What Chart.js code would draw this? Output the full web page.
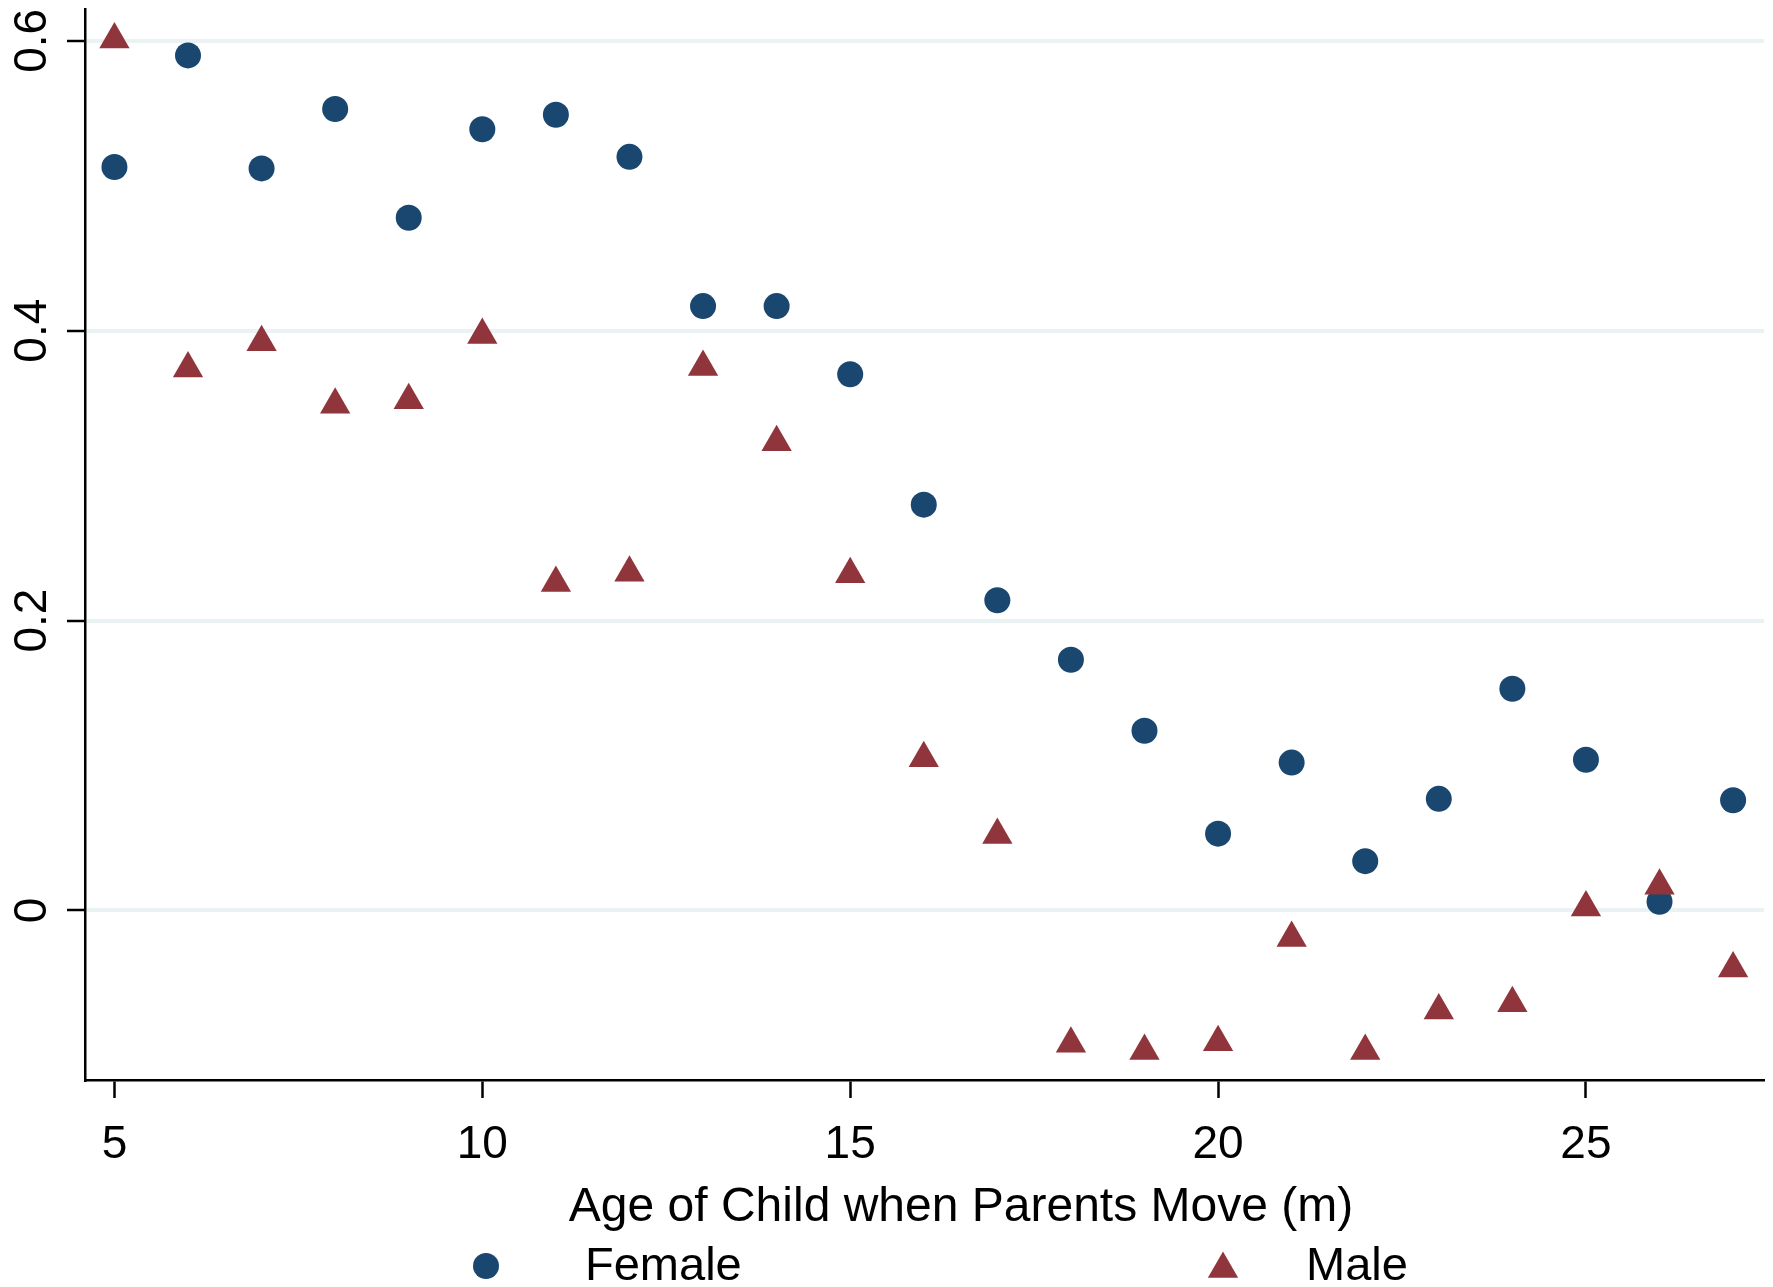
<!DOCTYPE html>
<html>
<head>
<meta charset="utf-8">
<script src="https://cdn.jsdelivr.net/npm/chart.js@4.4.1/dist/chart.umd.min.js"></script>
<style>
    html, body { margin: 0; padding: 0; background: #fff; }
    #wrap { width: 1773px; height: 1287px; }
</style>
</head>
<body>
<div id="wrap"><canvas id="moveChart" width="1773" height="1287"></canvas></div>
<script>
/* ===============================
   DATA
================================ */
const ages = [5, 6, 7, 8, 9, 10, 11, 12, 13, 14, 15, 16, 17, 18, 19, 20, 21, 22, 23, 24, 25, 26, 27];
const femaleValues = [0.513, 0.590, 0.512, 0.553, 0.478, 0.539, 0.549, 0.520, 0.417, 0.417, 0.370, 0.280,
                      0.214, 0.173, 0.124, 0.053, 0.102, 0.034, 0.077, 0.153, 0.104, 0.006, 0.076];
const maleValues = [0.601, 0.374, 0.392, 0.349, 0.352, 0.397, 0.226, 0.233, 0.375, 0.323, 0.232, 0.105,
                    0.052, -0.092, -0.097, -0.091, -0.019, -0.097, -0.069, -0.064, 0.002, 0.017, -0.040];
const xTicks = [5, 10, 15, 20, 25];
const yTicks = [0, 0.2, 0.4, 0.6];
const seriesNames = ["Female", "Male"];
const xTitle = "Age of Child when Parents Move (m)";

/* ===============================
   STYLE
================================ */
const NAVY = "#1a476f";
const MAROON = "#90353b";
const GRID = "#eaf2f3";
const FONT = '"Liberation Sans", Arial, Helvetica, sans-serif';

const toPoints = vals => ages.map((a, i) => ({ x: a, y: vals[i] }));

// no extra label padding around the plot, the layout padding sets the frame
function noPad(s) {
    s.paddingTop = 0;
    s.paddingBottom = 0;
    s.paddingLeft = 0;
    s.paddingRight = 0;
}

/* ===============================
   AXIS TITLE + LEGEND
================================ */
function drawMarker(ctx, style, x, y, r, color) {
    ctx.fillStyle = color;
    ctx.beginPath();
    if (style === "circle") {
        ctx.arc(x, y, r, 0, Math.PI * 2);
    } else {
        ctx.moveTo(x, y - r);
        ctx.lineTo(x + r * Math.sin(Math.PI * 2 / 3), y - r * Math.cos(Math.PI * 2 / 3));
        ctx.lineTo(x + r * Math.sin(Math.PI * 4 / 3), y - r * Math.cos(Math.PI * 4 / 3));
        ctx.closePath();
    }
    ctx.fill();
}

const bottomText = {
    id: "bottomText",
    afterDraw(chart) {
        const ctx = chart.ctx;
        ctx.save();
        ctx.fillStyle = "#000";
        ctx.textBaseline = "middle";

        // x axis title
        ctx.font = "48px " + FONT;
        ctx.textAlign = "center";
        ctx.fillText(xTitle, 961, 1208);

        // legend, two columns
        ctx.font = "47px " + FONT;
        ctx.textAlign = "left";
        drawMarker(ctx, "circle", 486, 1266, 13, NAVY);
        ctx.fillStyle = "#000";
        ctx.fillText(seriesNames[0], 585, 1267);
        drawMarker(ctx, "triangle", 1223, 1269, 17.5, MAROON);
        ctx.fillStyle = "#000";
        ctx.fillText(seriesNames[1], 1306, 1267);
        ctx.restore();
    }
};

/* ===============================
   CHART
================================ */
document.addEventListener("DOMContentLoaded", () => {
    const ctx = document.getElementById("moveChart").getContext("2d");

    new Chart(ctx, {
        type: "scatter",
        data: {
            datasets: [{
                label: seriesNames[0],
                data: toPoints(femaleValues),
                pointStyle: "circle",
                pointRadius: 13,
                pointHoverRadius: 13,
                pointBorderWidth: 0,
                backgroundColor: NAVY,
                borderColor: NAVY,
                order: 2
            }, {
                label: seriesNames[1],
                data: toPoints(maleValues),
                pointStyle: "triangle",
                pointRadius: 17.5,
                pointHoverRadius: 17.5,
                pointBorderWidth: 0,
                backgroundColor: MAROON,
                borderColor: MAROON,
                order: 1
            }]
        },
        options: {
            responsive: false,
            animation: false,
            devicePixelRatio: 1,
            layout: {
                autoPadding: false,
                padding: { top: 9, right: 9, left: 0, bottom: 0 }
            },
            plugins: {
                legend: { display: false },
                tooltip: { enabled: false }
            },
            scales: {
                x: {
                    type: "linear",
                    min: 4.6,
                    max: 27.42,
                    afterFit: s => { s.height = 207; noPad(s); },
                    afterBuildTicks: s => { s.ticks = xTicks.map(v => ({ value: v })); },
                    border: { color: "#000", width: 2.5 },
                    grid: {
                        drawOnChartArea: false,
                        drawTicks: true,
                        tickLength: 18,
                        tickColor: "#000",
                        tickWidth: 2.5
                    },
                    ticks: {
                        color: "#000",
                        font: { family: FONT, size: 46 },
                        padding: 20,
                        maxRotation: 0
                    }
                },
                y: {
                    type: "linear",
                    min: -0.117,
                    max: 0.622,
                    afterFit: s => { s.width = 85; noPad(s); },
                    afterBuildTicks: s => { s.ticks = yTicks.map(v => ({ value: v })); },
                    border: { color: "#000", width: 2.5 },
                    grid: {
                        color: GRID,
                        lineWidth: 4,
                        drawTicks: true,
                        tickLength: 18,
                        tickColor: "#000",
                        tickWidth: 2.5
                    },
                    ticks: {
                        color: "#000",
                        font: { family: FONT, size: 46 },
                        padding: 2,
                        minRotation: 90,
                        maxRotation: 90,
                        crossAlign: "center",
                        callback: v => String(Math.round(v * 10) / 10)
                    }
                }
            }
        },
        plugins: [bottomText]
    });
});
</script>
</body>
</html>
